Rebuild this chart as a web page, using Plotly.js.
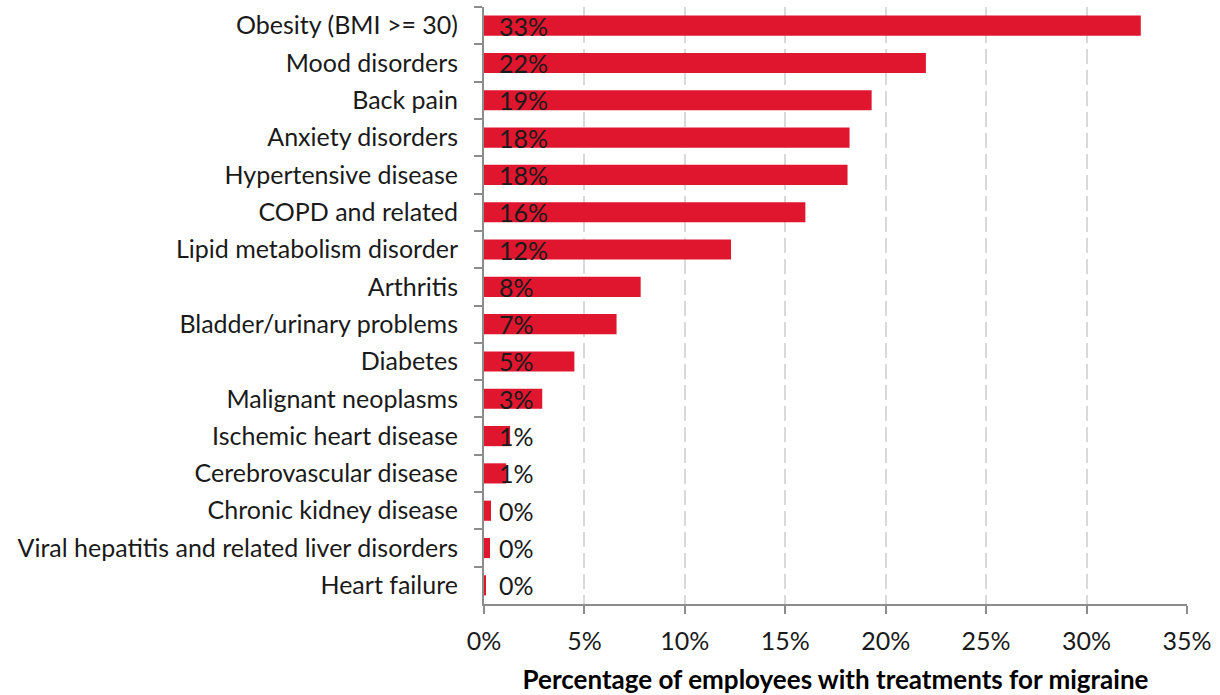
<!DOCTYPE html>
<html>
<head>
<meta charset="utf-8">
<script src="https://cdn.plot.ly/plotly-3.0.1.min.js"></script>
<style>html,body{margin:0;padding:0;background:#fff;}#chart{width:1220px;height:695px;}</style>
</head>
<body>
<div id="chart"></div>
<script>
const categories = [
  "Obesity (BMI >= 30)",
  "Mood disorders",
  "Back pain",
  "Anxiety disorders",
  "Hypertensive disease",
  "COPD and related",
  "Lipid metabolism disorder",
  "Arthritis",
  "Bladder/urinary problems",
  "Diabetes",
  "Malignant neoplasms",
  "Ischemic heart disease",
  "Cerebrovascular disease",
  "Chronic kidney disease",
  "Viral hepatitis and related liver disorders",
  "Heart failure"
];
const values = [32.7, 22.0, 19.3, 18.2, 18.1, 16.0, 12.3, 7.8, 6.6, 4.5, 2.9, 1.3, 1.1, 0.35, 0.3, 0.1];
const xTickVals = [0, 5, 10, 15, 20, 25, 30, 35];
const xTickText = ["0%", "5%", "10%", "15%", "20%", "25%", "30%", "35%"];

const FONT = "Lato, 'Open Sans', sans-serif";

const bars = {
  type: "bar",
  orientation: "h",
  y: categories,
  x: values,
  marker: {color: "#E0162F"},
  hoverinfo: "skip"
};

const labels = categories.map((c, i) => ({
  x: 0, y: c, xref: "x", yref: "y",
  text: Math.round(values[i]) + "%",
  showarrow: false, xanchor: "left", yanchor: "middle",
  xshift: 13,
  font: {family: FONT, size: 25, color: "#1a1a1a"}
}));

const layout = {
  width: 1220, height: 695,
  margin: {l: 484, r: 33, t: 7, b: 91},
  paper_bgcolor: "#fff", plot_bgcolor: "#fff",
  bargap: 0.46,
  showlegend: false,
  font: {family: FONT, size: 25, color: "#1a1a1a"},
  xaxis: {
    range: [0, 35],
    tickvals: xTickVals, ticktext: xTickText,
    showgrid: true, gridcolor: "#d9d9d9", gridwidth: 2, griddash: "15px,6px",
    zeroline: false,
    showline: true, linecolor: "#8c8c8c", linewidth: 2,
    ticks: "outside", ticklen: 8, tickcolor: "#8c8c8c", tickwidth: 2,
    tickfont: {family: FONT, size: 25, color: "#1a1a1a"},
    ticklabelstandoff: 6,
    title: {text: "<b>Percentage of employees with treatments for migraine</b>", font: {family: FONT, size: 26, color: "#000"}, standoff: 20},
    fixedrange: true
  },
  yaxis: {
    autorange: "reversed",
    type: "category",
    showgrid: false, zeroline: false,
    showline: true, linecolor: "#8c8c8c", linewidth: 2,
    ticks: "outside", tickson: "boundaries", ticklen: 8, tickcolor: "#8c8c8c", tickwidth: 2,
    tickfont: {family: FONT, size: 25, color: "#1a1a1a"},
    ticklabelstandoff: 19,
    fixedrange: true
  },
  annotations: labels
};

Plotly.newPlot("chart", [bars], layout, {displayModeBar: false, staticPlot: true});
</script>
</body>
</html>
